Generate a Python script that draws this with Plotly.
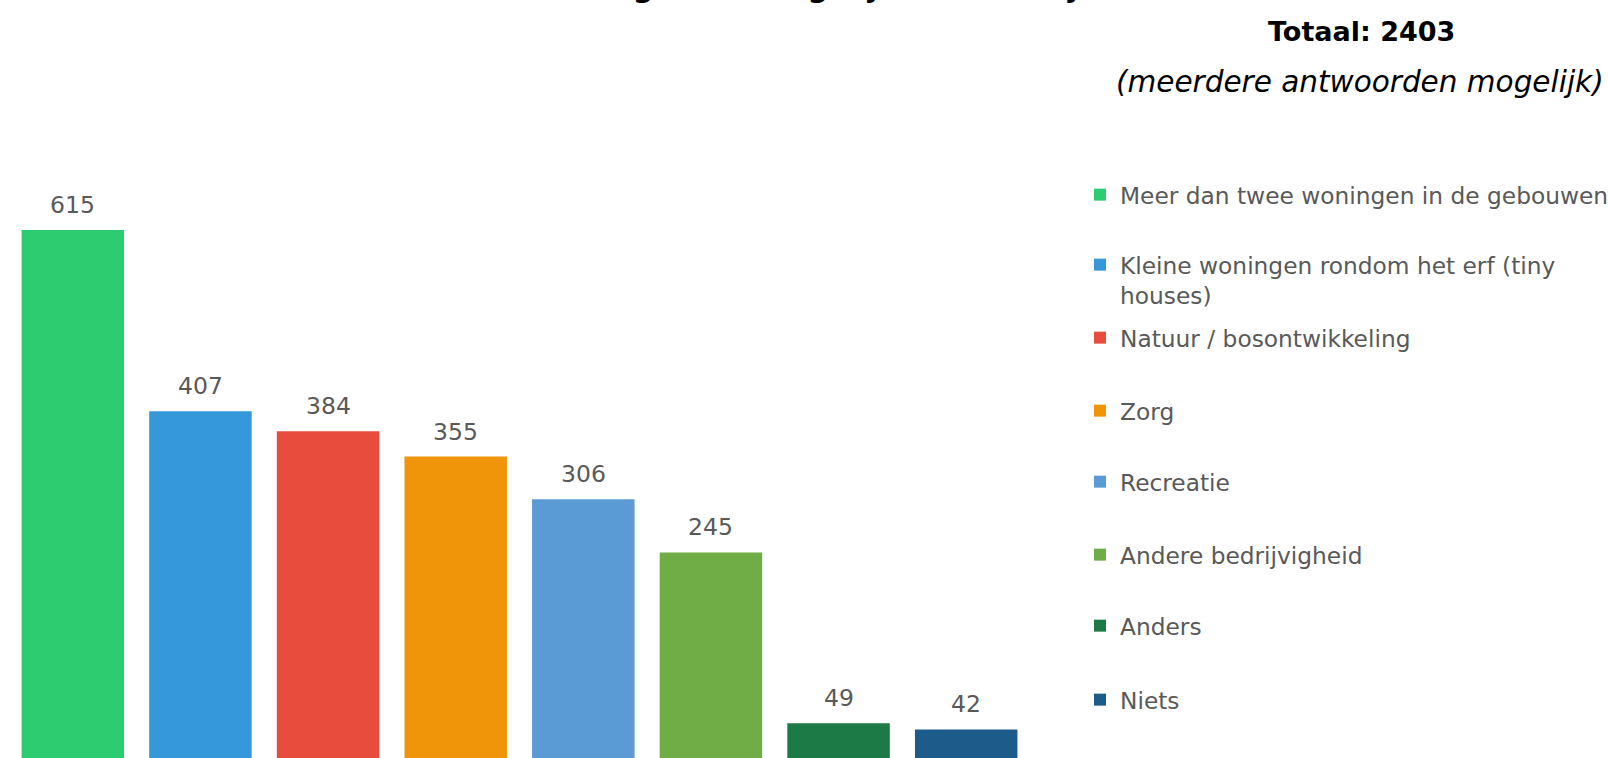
import plotly.graph_objects as go

# Survey answers: "Wat zou er nog meer mogelijk moeten zijn?"
categories = [
    "Meer dan twee woningen in de gebouwen",
    "Kleine woningen rondom het erf (tiny<br>houses)",
    "Natuur / bosontwikkeling",
    "Zorg",
    "Recreatie",
    "Andere bedrijvigheid",
    "Anders",
    "Niets",
]
counts = [615, 407, 384, 355, 306, 245, 49, 42]
total_respondents = 2403

bar_colors = ["#2ECC71", "#3498DB", "#E74C3C", "#F0940A",
              "#5B9BD5", "#70AD47", "#1B7A45", "#1D5C8A"]

FONT = "DejaVu Sans"
W, H = 1608, 758
TOP = 100

# vertical centre (px from top) of each legend entry
legend_centres = [195, 280, 338, 411, 482, 555, 626, 700]

fig = go.Figure()
for i, (cat, val, col) in enumerate(zip(categories, counts, bar_colors)):
    key = "legend" if i == 0 else f"legend{i + 1}"
    fig.add_trace(go.Bar(
        x=[cat.replace("<br>", " ")], y=[val], name=cat,
        marker=dict(color=col, opacity=1, line=dict(width=0)),
        legend=key, showlegend=True,
    ))
    fig.add_annotation(
        x=cat.replace("<br>", " "), y=val, text=str(val),
        xref="x", yref="y", showarrow=False, yanchor="bottom",
        yshift=9, font=dict(family=FONT, size=23.5, color="#595959"),
    )

legend_layout = {}
for i, centre in enumerate(legend_centres):
    key = "legend" if i == 0 else f"legend{i + 1}"
    legend_layout[key] = dict(
        xref="container", yref="container",
        x=1080 / W, y=1 - centre / H,
        xanchor="left", yanchor="middle",
        valign="top" if i == 1 else "middle",
        bgcolor="rgba(0,0,0,0)", borderwidth=0,
        font=dict(family=FONT, size=23.3, color="#595959"),
        itemclick=False, itemdoubleclick=False,
    )

# chart title (mostly above the visible page), total and note
fig.add_annotation(
    xref="paper", yref="paper", x=(761 - 9) / 1021, y=(H - 6) / (H - TOP),
    xanchor="center", yanchor="bottom", showarrow=False,
    text="<b>Wat zou er nog meer mogelijk moeten zijn?</b>",
    font=dict(family=FONT, size=29, color="#000000"),
)
fig.add_annotation(
    xref="paper", yref="paper", x=(1361 - 9) / 1021, y=(H - 31) / (H - TOP),
    xanchor="center", yanchor="middle", showarrow=False,
    text=f"<b>Totaal: {total_respondents}</b>",
    font=dict(family=FONT, size=27, color="#000000"),
)
fig.add_annotation(
    xref="paper", yref="paper", x=(1114 - 9) / 1021, y=(H - 82) / (H - TOP),
    xanchor="left", yanchor="middle", showarrow=False,
    text="<i>(meerdere antwoorden mogelijk)</i>",
    font=dict(family=FONT, size=29.5, color="#000000"),
)

fig.update_layout(
    width=W, height=H,
    margin=dict(l=9, r=W - 9 - 1021, t=TOP, b=0, pad=0),
    paper_bgcolor="white", plot_bgcolor="white",
    barmode="overlay", bargap=0.197,
    xaxis=dict(visible=False, categoryorder="array",
               categoryarray=[c.replace("<br>", " ") for c in categories]),
    yaxis=dict(visible=False, range=[9.18, 764.1]),
    hovermode=False,
    **legend_layout,
)

fig.write_html("out.html")
